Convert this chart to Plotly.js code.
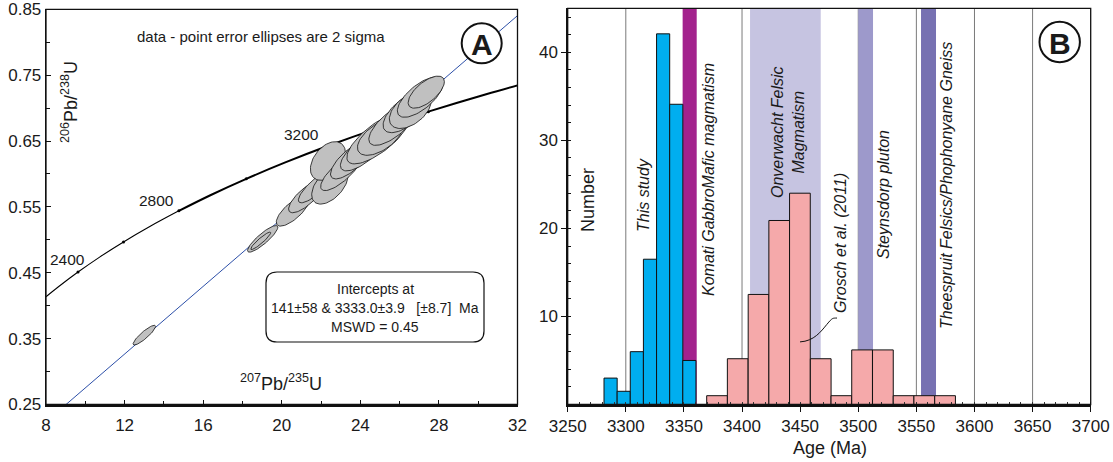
<!DOCTYPE html>
<html>
<head>
<meta charset="utf-8">
<script src="https://cdn.plot.ly/plotly-3.0.1.min.js"></script>
<style>html,body{margin:0;padding:0;background:#fff}#chart{width:1113px;height:462px}</style>
</head>
<body>
<div id="chart"></div>
<script>
// ---------- DATA ----------
// Panel A: concordia (age in Ma, 207Pb/235U, 206Pb/238U)
const concAge = [2231, 2300, 2400, 2500, 2600, 2700, 2800, 2900, 3000, 3100, 3200, 3300, 3400, 3500, 3600];
const concX   = [8.000, 8.633, 9.630, 10.730, 11.944, 13.284, 14.762, 16.393, 18.193, 20.180, 22.371, 24.790, 27.460, 30.405, 33.656];
const concY   = [0.4135, 0.4287, 0.4511, 0.4738, 0.4968, 0.5202, 0.5440, 0.5681, 0.5926, 0.6175, 0.6428, 0.6685, 0.6946, 0.7211, 0.7480];
const concTickAges  = [2400, 2600, 2800, 3000, 3200, 3400];
const concLabelAges = [2400, 2800, 3200];
// Discordia: lower (141 Ma) and upper (3333 Ma) intercept ratios
const discX = [0.149, 25.643, 32.0];
const discY = [0.0221, 0.6771, 0.8404];
// Analyses: 207/235, 206/238, 2-sigma errors and error correlation
const ellX   = [13.005, 19.03, 18.93, 20.564, 21.228, 21.789, 22.453, 22.351, 23.015, 23.526, 24.139, 24.905, 25.007, 25.671, 26.335, 26.539, 27.05, 27.356];
const ellY   = [0.3553, 0.5015, 0.4985, 0.5439, 0.5652, 0.5818, 0.5833, 0.6197, 0.6030, 0.6212, 0.6348, 0.6545, 0.6561, 0.6758, 0.6939, 0.6970, 0.7167, 0.7242];
const ellSx  = [0.571, 0.770, 0.508, 0.843, 0.878, 0.942, 0.928, 0.892, 1.034, 1.044, 1.153, 1.591, 1.153, 1.238, 1.176, 1.061, 1.164, 0.921];
const ellSy  = [0.01496, 0.0202, 0.01324, 0.02312, 0.02406, 0.02558, 0.02906, 0.02933, 0.02824, 0.02867, 0.03011, 0.03919, 0.02776, 0.03236, 0.03117, 0.02794, 0.03062, 0.02436];
const ellRho = [0.888, 0.874, 0.927, 0.744, 0.765, 0.842, 0.514, 0.413, 0.784, 0.740, 0.728, 0.751, 0.576, 0.719, 0.639, 0.481, 0.684, 0.652];

// Panel B: histograms (bin centre age in Ma, number)
const blueAge = [3286.9, 3298.2, 3309.5, 3320.8, 3332.1, 3343.4, 3354.7];
const blueN   = [3.0, 1.5, 6.0, 16.5, 42.1, 34.1, 5.0];
const pinkAge = [3378.5, 3396.3, 3414.2, 3432.0, 3449.8, 3467.7, 3485.5, 3503.3, 3521.2, 3539.0, 3556.8, 3574.7];
const pinkN   = [1.0, 5.2, 12.5, 20.9, 24.0, 5.2, 1.0, 6.2, 6.2, 1.0, 1.0, 1.0];
// Reference age ranges (Ma)
const bandNames = ['Komati Gabbro/Mafic', 'Onverwacht Felsic', 'Steynsdorp', 'Theespruit'];
const bandStart = [3348.9, 3406.9, 3500.0, 3554.0];
const bandEnd   = [3361.0, 3467.7, 3512.7, 3566.9];
const gridAgesB = [3300, 3350, 3400, 3450, 3500, 3550, 3600, 3650];
const xTicksA = [8, 12, 16, 20, 24, 28, 32];
const yTicksB = [10, 20, 30, 40];

// ---------- STYLE / LAYOUT ----------
const W = 1113, H = 462;
const FONT = 'Liberation Sans, Arial, Helvetica, sans-serif';
const TXT = '#1a1a1a';
const bandColors = ['#A3228D', '#C6C4E1', '#9D99CB', '#7771B2'];
const fx = p => p / W, fy = p => 1 - p / H;
const yA0 = fy(404.5), yA1 = fy(9.3), yB0 = fy(404.5), yB1 = fy(8.3);

const traces = [];
// discordia
traces.push({x: discX, y: discY, mode: 'lines', line: {color: '#2C4FA8', width: 1}, xaxis: 'x', yaxis: 'y', hoverinfo: 'skip'});
// concordia split (thin -> thick)
const cut = concAge.indexOf(2800);
traces.push({x: concX.slice(0, cut + 1), y: concY.slice(0, cut + 1), mode: 'lines', line: {color: '#000', width: 1.1, shape: 'spline'}, xaxis: 'x', yaxis: 'y'});
traces.push({x: concX.slice(cut), y: concY.slice(cut), mode: 'lines', line: {color: '#000', width: 2, shape: 'spline'}, xaxis: 'x', yaxis: 'y'});
const tIdx = concTickAges.map(a => concAge.indexOf(a));
traces.push({x: tIdx.map(i => concX[i]), y: tIdx.map(i => concY[i]), mode: 'markers', marker: {color: '#000', size: 3}, xaxis: 'x', yaxis: 'y'});
// error ellipses
for (let i = 0; i < ellX.length; i++) {
  const xs = [], ys = [];
  const r = ellRho[i], q = Math.sqrt(1 - r * r);
  for (let k = 0; k <= 72; k++) {
    const t = 2 * Math.PI * k / 72;
    xs.push(ellX[i] + ellSx[i] * Math.cos(t));
    ys.push(ellY[i] + ellSy[i] * (r * Math.cos(t) + q * Math.sin(t)));
  }
  traces.push({x: xs, y: ys, mode: 'lines', fill: 'toself', fillcolor: '#C0C0C0', line: {color: '#111', width: 0.8}, xaxis: 'x', yaxis: 'y'});
}
// histograms
traces.push({type: 'bar', x: blueAge, y: blueN, width: 11.31, marker: {color: '#00AEEF', line: {color: '#111', width: 1}}, xaxis: 'x2', yaxis: 'y2'});
traces.push({type: 'bar', x: pinkAge, y: pinkN, width: 17.83, marker: {color: '#F5A9AA', line: {color: '#111', width: 1}}, xaxis: 'x2', yaxis: 'y2'});

const shapes = [];
// vertical grid lines of panel B (under the bands)
gridAgesB.forEach(a => shapes.push({type: 'line', xref: 'x2', yref: 'paper', x0: a, x1: a, y0: yB0, y1: yB1, line: {color: '#7a7a7a', width: 1}, layer: 'below'}));
bandStart.forEach((s, i) => shapes.push({type: 'rect', xref: 'x2', yref: 'paper', x0: s, x1: bandEnd[i], y0: yB0, y1: yB1, fillcolor: bandColors[i], line: {width: 0}, layer: 'below'}));
// frames
shapes.push({type: 'rect', xref: 'paper', yref: 'paper', x0: fx(46), x1: fx(517.5), y0: yA0, y1: yA1, line: {color: '#111', width: 1.3}, layer: 'above'});
shapes.push({type: 'rect', xref: 'paper', yref: 'paper', x0: fx(567.7), x1: fx(1090.7), y0: yB0, y1: yB1, line: {color: '#111', width: 1.3}, layer: 'above'});
// circles for panel letters
function circ(cx, cy, r) {
  return {type: 'circle', xref: 'paper', yref: 'paper', x0: fx(cx - r), x1: fx(cx + r), y0: fy(cy + r), y1: fy(cy - r), line: {color: '#111', width: 2}, fillcolor: '#fff', layer: 'above'};
}
shapes.push(circ(481.7, 43.3, 20));
shapes.push(circ(1059.7, 42, 20.2));
// rounded box (pixel positions -> paper)
function rr(x0, y0, x1, y1, r) {
  const P = (a, b) => fx(a).toFixed(5) + ',' + fy(b).toFixed(5);
  return 'M' + P(x0 + r, y0) + ' L' + P(x1 - r, y0) + ' Q' + P(x1, y0) + ' ' + P(x1, y0 + r) +
    ' L' + P(x1, y1 - r) + ' Q' + P(x1, y1) + ' ' + P(x1 - r, y1) +
    ' L' + P(x0 + r, y1) + ' Q' + P(x0, y1) + ' ' + P(x0, y1 - r) +
    ' L' + P(x0, y0 + r) + ' Q' + P(x0, y0) + ' ' + P(x0 + r, y0) + ' Z';
}
shapes.push({type: 'path', xref: 'paper', yref: 'paper', path: rr(266, 272, 484, 342, 11), line: {color: '#111', width: 1.2}, layer: 'above'});
// leader to Grosch et al.
shapes.push({type: 'path', xref: 'x2', yref: 'y2', path: 'M3449.9,7.11 C3462,7.2 3468,8.3 3473,9.1 S3478,9.8 3481.7,9.82', line: {color: '#111', width: 1}, layer: 'above'});

function ann(text, x, y, size, opts) {
  return Object.assign({text: text, xref: 'paper', yref: 'paper', x: fx(x), y: fy(y), xanchor: 'center', yanchor: 'middle', showarrow: false,
    font: {family: FONT, size: size, color: TXT}}, opts || {});
}
const annotations = [
  ann('data - point error ellipses are 2 sigma', 261, 36.7, 15),
  ann('<sup>206</sup>Pb/<sup>238</sup>U', 70, 102, 18, {textangle: -90}),
  ann('<sup>207</sup>Pb/<sup>235</sup>U', 281, 382, 18),
  ann('Intercepts at', 375, 289, 14),
  ann('141±58 &amp; 3333.0±3.9&nbsp;&nbsp;&nbsp;[±8.7]&nbsp;&nbsp;Ma', 375, 307.7, 14),
  ann('MSWD = 0.45', 375, 326.7, 14),
  ann('<b>A</b>', 481.7, 44, 30),
  ann('<b>B</b>', 1059.7, 43, 30),
  ann('Number', 588, 200, 18, {textangle: -90}),
  ann('<i>This study</i>', 643, 195, 16, {textangle: -90}),
  ann('<i>Komati GabbroMafic magmatism</i>', 708, 180, 16, {textangle: -90}),
  ann('<i>Onverwacht Felsic<br>Magmatism</i>', 788, 132, 16, {textangle: -90}),
  ann('<i>Grosch et al. (2011)</i>', 840, 243, 16, {textangle: -90}),
  ann('<i>Steynsdorp pluton</i>', 883, 195, 16, {textangle: -90}),
  ann('<i>Theespruit Felsics/Phophonyane Gneiss</i>', 946, 186, 16, {textangle: -90}),
  ann('Age (Ma)', 830, 448, 18)
];
// concordia age labels (positioned next to their points)
const labelPos = {2400: [67.5, 259], 2800: [156, 200], 3200: [301, 135]};
concLabelAges.forEach(a => annotations.push(ann(String(a), labelPos[a][0], labelPos[a][1], 15.5)));

const tickFont = {family: FONT, size: 17, color: TXT};
const layout = {
  width: W, height: H,
  margin: {l: 0, r: 0, t: 0, b: 0},
  paper_bgcolor: '#fff', plot_bgcolor: 'rgba(0,0,0,0)',
  showlegend: false, barmode: 'overlay', bargap: 0,
  xaxis: {domain: [fx(46), fx(517.5)], range: [8, 32], tickmode: 'array', tickvals: xTicksA,
    ticks: 'inside', ticklen: 5, tickwidth: 1, tickcolor: '#111', ticklabelstandoff: 4,
    minor: {ticks: 'inside', ticklen: 4, tickwidth: 1, tickcolor: '#111', tickmode: 'linear', tick0: 8, dtick: 2},
    showgrid: false, zeroline: false, showline: true, linecolor: '#111', linewidth: 2.5,
    tickfont: tickFont, anchor: 'y', fixedrange: true},
  yaxis: {domain: [yA0, yA1], range: [0.25, 0.85], tickmode: 'linear', tick0: 0.25, dtick: 0.1, tickformat: '.2f',
    ticks: 'inside', ticklen: 5, tickwidth: 1, tickcolor: '#111',
    minor: {ticks: 'inside', ticklen: 4, tickwidth: 1, tickcolor: '#111', tickmode: 'linear', tick0: 0.25, dtick: 0.05},
    showgrid: false, zeroline: false, showline: true, linecolor: '#111', linewidth: 1.3,
    tickfont: tickFont, anchor: 'x', fixedrange: true},
  xaxis2: {domain: [fx(567.7), fx(1090.7)], range: [3250, 3700], tickmode: 'linear', tick0: 3250, dtick: 50,
    ticks: 'outside', ticklen: 5, tickwidth: 1, tickcolor: '#111',
    minor: {ticks: 'inside', ticklen: 2.5, tickwidth: 1, tickcolor: '#333', tickmode: 'linear', tick0: 3250, dtick: 10, showgrid: false},
    showgrid: false, zeroline: false, showline: true, linecolor: '#111', linewidth: 2.5,
    tickfont: tickFont, anchor: 'y2', fixedrange: true},
  yaxis2: {domain: [yB0, yB1], range: [0, 45], tickmode: 'array', tickvals: yTicksB,
    ticks: 'outside', ticklen: 5, tickwidth: 1, tickcolor: '#111',
    minor: {ticks: 'inside', ticklen: 3, tickwidth: 1, tickcolor: '#111', tickmode: 'linear', tick0: 0, dtick: 2, showgrid: false},
    showgrid: false, zeroline: false, showline: true, linecolor: '#111', linewidth: 1.3,
    tickfont: tickFont, anchor: 'x2', fixedrange: true},
  shapes: shapes,
  annotations: annotations
};
Plotly.newPlot('chart', traces, layout, {staticPlot: true, displayModeBar: false});
</script>
</body>
</html>
